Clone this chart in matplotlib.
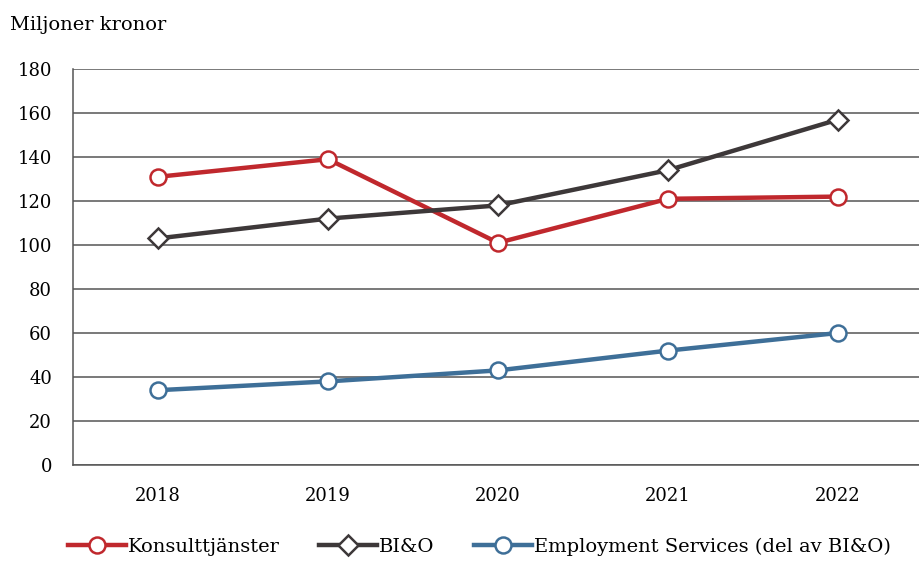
import matplotlib
matplotlib.use("Agg")
import matplotlib.pyplot as plt
import numpy as np

years = ["2018", "2019", "2020", "2021", "2022"]
konsult = [131, 139, 101, 121, 122]
bio = [103, 112, 118, 134, 157]
employment = [34, 38, 43, 52, 60]

plt.rcParams['font.family'] = ['DejaVu Serif']

fig = plt.figure(figsize=(9.2, 5.61), dpi=100)
ax = fig.add_axes([73/920, 1 - 465/561, 850/920, 396/561])

x = np.arange(len(years))
ax.plot(x, konsult, color="#C0282D", lw=3.2, marker="o", ms=11.5,
        mfc="white", mec="#C0282D", mew=1.8, label="Konsulttjänster", zorder=3)
ax.plot(x, bio, color="#3D3839", lw=3.2, marker="D", ms=10,
        mfc="white", mec="#3D3839", mew=1.8, label="BI&O", zorder=3)
ax.plot(x, employment, color="#3E6F98", lw=3.2, marker="o", ms=11.5,
        mfc="white", mec="#3E6F98", mew=1.8,
        label="Employment Services (del av BI&O)", zorder=3)

ax.set_xlim(-0.5, 4.5)
ax.set_ylim(0, 180)
ax.set_yticks(range(0, 181, 20))
ax.set_xticks(x)
ax.set_xticklabels(years)
ax.tick_params(length=0, labelsize=13, colors="black")
ax.tick_params(axis="y", pad=15)
ax.tick_params(axis="x", pad=16)
ax.grid(axis="y", color="#555555", lw=1.1)
ax.set_axisbelow(True)
for s in ["top", "right"]:
    ax.spines[s].set_visible(False)
ax.spines["left"].set_color("#555555")
ax.spines["bottom"].set_color("#555555")
ax.spines["left"].set_linewidth(1.1)
ax.spines["bottom"].set_linewidth(1.1)

fig.text(10/920, 1 - 25/561, "Miljoner kronor", fontsize=14, va="center", ha="left")

fig.legend(loc="center", bbox_to_anchor=(0.521, 1 - 547/561), ncol=3,
           frameon=False, fontsize=14, handlelength=3.0, handletextpad=0.1,
           columnspacing=2.0)

plt.savefig("out.png")
